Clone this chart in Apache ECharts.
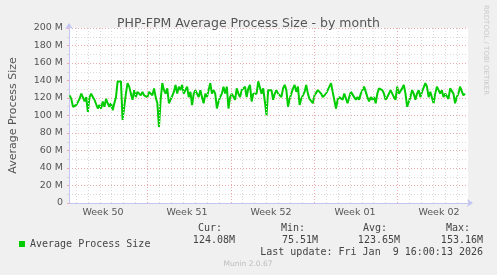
<!DOCTYPE html>
<html>
<head>
<meta charset="utf-8">
<script src="https://cdn.jsdelivr.net/npm/echarts@6/dist/echarts.min.js"></script>
<style>
html,body{margin:0;padding:0;background:#f0f0f0;}
#chart{width:497px;height:275px;}
</style>
</head>
<body>
<div id="chart"></div>
<script>
// ---- data (hours since start of Week 50; values in MB) ----
const weekLabels = ['Week 50', 'Week 51', 'Week 52', 'Week 01', 'Week 02'];
const startHour = 11.33;
const stepHours = 10 / 3;
const processSizeM = [
  123,119,110,108,112,114,119,125,121,116,121,104,121,125,121,118,116,108,112,108,
  116,110,119,114,110,114,106,114,121,139,137,139,95,110,125,137,133,125,118,129,
  121,127,125,123,127,123,125,121,127,129,123,131,121,114,87,118,137,129,125,131,
  114,118,118,127,135,125,133,129,135,125,125,133,121,127,112,125,129,125,121,129,
  121,114,125,121,129,137,125,129,125,108,116,121,125,133,125,133,108,121,125,127,
  118,131,125,121,129,129,133,121,131,135,116,125,127,125,139,137,125,131,116,100,
  129,127,129,
  118,125,129,125,127,121,131,135,129,110,119,121,131,135,127,133,112,119,121,127,
  135,125,119,118,114,123,121,129,131,125,121,123,125,129,133,137,127,125,108,118,
  121,121,118,125,123,114,121,127,127,121,118,121,118,125,123,133,131,121,116,121,
  118,121,114,125,131,129,129,125,118,121,125,129,125,121,118,133,125,127,131,135,
  125,110,108,121,129,125,118,125,129,121,127,129,137,133,121,127,129,114,125,133,
  129,125,129,121,125,127,119,131,133,125,114,121,125,133,135,123,125
];
const yTicksM = [0, 20, 40, 60, 80, 100, 120, 140, 160, 180, 200];
const stats = { cur: '124.08M', min: '75.51M', avg: '123.65M', max: '153.16M' };
const lastUpdate = 'Last update: Fri Jan  9 16:00:13 2026';
const seriesName = 'Average Process Size';

const seriesData = processSizeM.map((v, i) => [startHour + i * stepHours, v]);
const dayLines = [];
for (let h = 24; h < 814; h += 24) dayLines.push(h);

const MINOR = '#d9d9d9';
const MAJOR = '#e8aaaa';
const AXIS = '#c4c4f4';
const TXT = '#555';

const chart = echarts.init(document.getElementById('chart'), null, { renderer: 'canvas' });
chart.setOption({
  animation: false,
  backgroundColor: '#f0f0f0',
  title: {
    text: 'PHP-FPM Average Process Size - by month',
    left: 'center', top: 12,
    textStyle: { fontFamily: 'DejaVu Sans', fontSize: 12.5, fontWeight: 'normal', color: '#555' }
  },
  legend: {
    left: 14, top: 234, icon: 'rect', itemWidth: 6, itemHeight: 6,
    textStyle: { fontFamily: 'DejaVu Sans Mono', fontSize: 10, color: '#444' },
    data: [seriesName]
  },
  grid: [
    { left: 66, right: 29, top: 28, height: 175, show: true, backgroundColor: '#fff', borderWidth: 0, containLabel: false },
    { left: 61, width: 420, top: 28, height: 175, show: false, containLabel: false }
  ],
  xAxis: [
    {
      type: 'value', gridIndex: 0, min: 10, max: 814,
      axisLine: { show: true, lineStyle: { color: AXIS, width: 1 }, symbol: ['none', 'arrow'], symbolSize: [6, 6], symbolOffset: [0, 5] },
      axisTick: { show: false }, axisLabel: { show: false }, splitLine: { show: false }
    },
    {
      type: 'category', gridIndex: 1, data: weekLabels, boundaryGap: true,
      axisLine: { show: false }, axisTick: { show: false }, splitLine: { show: false },
      axisLabel: { fontFamily: 'DejaVu Sans', fontSize: 9.5, color: TXT, margin: 5 }
    }
  ],
  yAxis: [
    {
      type: 'value', gridIndex: 0, min: 0, max: 200, interval: 20,
      name: 'Average Process Size', nameLocation: 'middle', nameGap: 50,
      nameTextStyle: { fontFamily: 'DejaVu Sans', fontSize: 11, color: TXT },
      axisLine: { show: true, lineStyle: { color: AXIS, width: 1 }, symbol: ['none', 'arrow'], symbolSize: [6, 6], symbolOffset: [0, 5] },
      axisTick: { show: true, length: 2, lineStyle: { color: MAJOR } },
      minorTick: { show: true, splitNumber: 2, length: 2, lineStyle: { color: MINOR } },
      axisLabel: {
        fontFamily: 'DejaVu Sans', fontSize: 9.5, color: TXT, margin: 6,
        formatter: v => (yTicksM.indexOf(v) < 0 ? '' : (v === 0 ? '0' : v + ' M'))
      },
      splitLine: { show: true, lineStyle: { color: MAJOR, type: [1, 2], width: 1 } },
      minorSplitLine: { show: true, lineStyle: { color: MINOR, type: [1, 2], width: 1 } }
    },
    { type: 'value', gridIndex: 1, show: false }
  ],
  series: [
    {
      type: 'line', xAxisIndex: 0, yAxisIndex: 0, data: [], silent: true, z: 1,
      markLine: {
        silent: true, symbol: ['none', 'none'], label: { show: false },
        lineStyle: { color: MINOR, type: [1, 2], width: 1 },
        emphasis: { disabled: true },
        data: dayLines.map(h => ({
          xAxis: h,
          lineStyle: { color: h % 168 === 0 ? MAJOR : MINOR, type: [1, 2], width: 1 }
        }))
      }
    },
    {
      name: seriesName, type: 'line', xAxisIndex: 0, yAxisIndex: 0, z: 3,
      data: seriesData, showSymbol: false, symbol: 'none',
      lineStyle: { color: '#00cc00', width: 2 }, itemStyle: { color: '#00cc00' }
    }
  ],
  graphic: [
    { type: 'text', style: { text: 'Cur:', x: 222, y: 228, textAlign: 'right', textVerticalAlign: 'middle', font: '10px "DejaVu Sans Mono"', fill: '#444' } },
    { type: 'text', style: { text: 'Min:', x: 305, y: 228, textAlign: 'right', textVerticalAlign: 'middle', font: '10px "DejaVu Sans Mono"', fill: '#444' } },
    { type: 'text', style: { text: 'Avg:', x: 387, y: 228, textAlign: 'right', textVerticalAlign: 'middle', font: '10px "DejaVu Sans Mono"', fill: '#444' } },
    { type: 'text', style: { text: 'Max:', x: 470, y: 228, textAlign: 'right', textVerticalAlign: 'middle', font: '10px "DejaVu Sans Mono"', fill: '#444' } },
    { type: 'text', style: { text: stats.cur, x: 235, y: 240, textAlign: 'right', textVerticalAlign: 'middle', font: '10px "DejaVu Sans Mono"', fill: '#444' } },
    { type: 'text', style: { text: stats.min, x: 318, y: 240, textAlign: 'right', textVerticalAlign: 'middle', font: '10px "DejaVu Sans Mono"', fill: '#444' } },
    { type: 'text', style: { text: stats.avg, x: 400, y: 240, textAlign: 'right', textVerticalAlign: 'middle', font: '10px "DejaVu Sans Mono"', fill: '#444' } },
    { type: 'text', style: { text: stats.max, x: 483, y: 240, textAlign: 'right', textVerticalAlign: 'middle', font: '10px "DejaVu Sans Mono"', fill: '#444' } },
    { type: 'text', style: { text: lastUpdate, x: 483, y: 252, textAlign: 'right', textVerticalAlign: 'middle', font: '10px "DejaVu Sans Mono"', fill: '#444' } },
    { type: 'text', style: { text: 'Munin 2.0.67', x: 248, y: 264, textAlign: 'center', textVerticalAlign: 'middle', font: '7.5px "DejaVu Sans"', fill: '#bdbdbd' } },
    { type: 'text', x: 486, y: 5, rotation: -Math.PI / 2, style: { text: 'RRDTOOL / TOBI OETIKER', x: 0, y: 0, textAlign: 'left', textVerticalAlign: 'middle', font: '7px "DejaVu Sans"', fill: '#cacaca' } }
  ]
});
</script>
</body>
</html>
